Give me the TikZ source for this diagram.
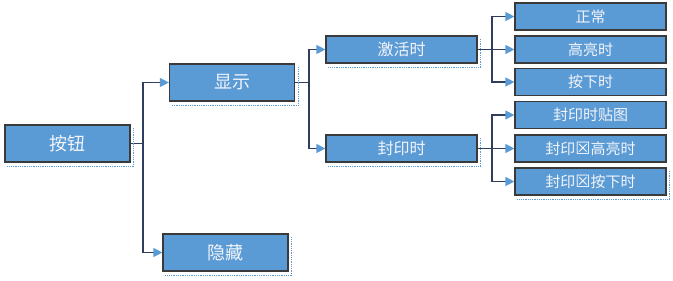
\documentclass[tikz,border=0pt]{standalone}
\usepackage{fontspec}
\newfontfamily\cjk{Noto Sans CJK SC}
\newfontfamily\symf{DejaVu Sans}
\usetikzlibrary{arrows.meta}
\definecolor{boxfill}{HTML}{5B9BD5}
\definecolor{boxline}{HTML}{3A3A3A}
\definecolor{conn}{HTML}{2E3E5C}
\definecolor{headc}{HTML}{5B9BD5}
\definecolor{txt}{HTML}{F2F4FA}
\begin{document}
\begin{tikzpicture}[x=1pt,y=-1pt,
  box/.style={draw=boxline,line width=1.2pt,fill=boxfill,text=txt,inner sep=0pt,anchor=center,font=\cjk},
  bigbox/.style={box,minimum width=125pt,minimum height=37pt,font=\cjk\fontsize{18}{20}\selectfont},
  midbox/.style={box,minimum width=151pt,minimum height=27pt,font=\cjk\fontsize{16}{18}\selectfont},
  smallbox/.style={box,minimum width=151pt,minimum height=27pt,font=\cjk\fontsize{15}{17}\selectfont},
  conn/.style={draw=conn,line width=1.3pt,-{Triangle[length=9pt,width=9pt,fill=headc,color=headc]}},
  seg/.style={draw=conn,line width=1.3pt}]
\useasboundingbox (0,0) rectangle (673,281);
% nodes
\node[bigbox] (btn) at (67.5,143.5) {按钮};
\node[bigbox] (show) at (232,82.5) {显示};
\node[bigbox] (hide) at (225.5,252.5) {隐藏};
\node[midbox] (act) at (401.5,49.5) {激活时};
\node[midbox] (seal) at (401.5,148.5) {封印时};
\node[smallbox] (n1) at (590.5,16.5) {正常};
\node[smallbox] (n2) at (590.5,49.5) {高亮时};
\node[smallbox] (n3) at (590.5,82) {按下时};
\node[smallbox] (n4) at (590.5,115) {封印时贴图};
\node[smallbox] (n5) at (590.5,148.5) {封印{\symf\fontsize{17}{17}\selectfont ☒}高亮时};
\node[smallbox] (n6) at (590.5,181.5) {封印{\symf\fontsize{17}{17}\selectfont ☒}按下时};
% junction coordinates
\coordinate (j1) at (143,143.5);
\coordinate (j2) at (309,82.5);
\coordinate (j3) at (492,49.5);
\coordinate (j4) at (492,148.5);
% connectors
\draw[seg] (btn.east) -- (j1);
\draw[conn] (j1) |- (show.west);
\draw[conn] (j1) |- (hide.west);
\draw[seg] (show.east) -- (j2);
\draw[conn] (j2) |- (act.west);
\draw[conn] (j2) |- (seal.west);
\draw[seg] (act.east) -- (j3);
\draw[conn] (j3) |- (n1.west);
\draw[conn] (j3) -- (n2.west);
\draw[conn] (j3) |- (n3.west);
\draw[seg] (seal.east) -- (j4);
\draw[conn] (j4) |- (n4.west);
\draw[conn] (j4) -- (n5.west);
\draw[conn] (j4) |- (n6.west);
% dotted shadows
\foreach \n in {btn,show,hide,act,seal,n6}{
  \draw[headc,densely dotted,line width=0.8pt] ([xshift=3pt,yshift=-4pt]\n.south west) -- ([xshift=3pt,yshift=-4pt]\n.south east) -- ([xshift=3pt,yshift=-4pt]\n.north east);
}
\end{tikzpicture}
\end{document}
